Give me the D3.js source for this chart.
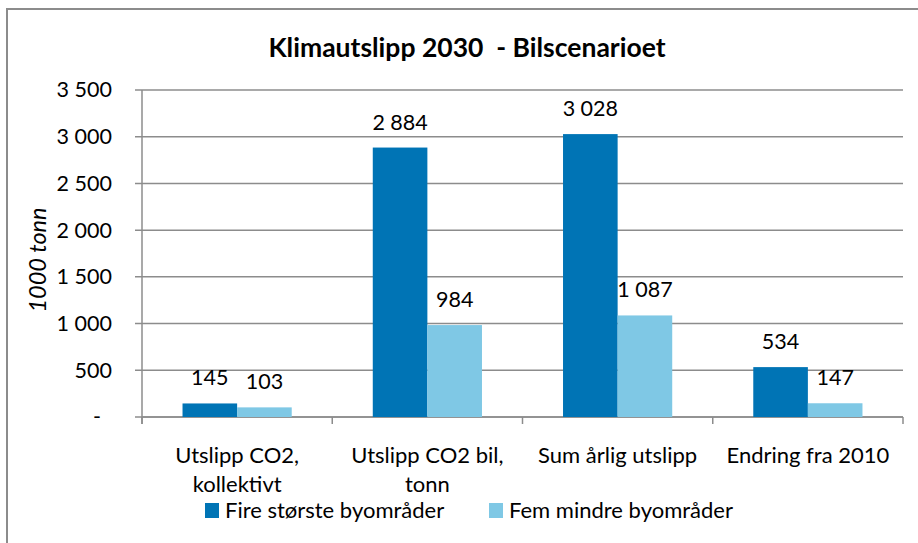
<!DOCTYPE html>
<html>
<head>
<meta charset="utf-8">
<script src="https://cdn.jsdelivr.net/npm/d3@7"></script>
<style>
  body { margin: 0; background: #fff; }
  text { font-family: Lato, "Open Sans", sans-serif; fill: #000; }
</style>
</head>
<body>
<div id="chart"></div>
<script>
// data
var categories = ["Utslipp CO2, kollektivt", "Utslipp CO2 bil, tonn", "Sum årlig utslipp", "Endring fra 2010"];
var categoryLines = [["Utslipp CO2,", "kollektivt"], ["Utslipp CO2 bil,", "tonn"], ["Sum årlig utslipp"], ["Endring fra 2010"]];
var seriesNames = ["Fire største byområder", "Fem mindre byområder"];
var fireStorste = [145, 2884, 3028, 534];
var femMindre = [103, 984, 1087, 147];
var yTicks = [0, 500, 1000, 1500, 2000, 2500, 3000, 3500];
var colors = ["#0074B5", "#7FC8E5"];

var svgWidth = 918;
var svgHeight = 543;

var margin = { top: 90, right: 15, bottom: 126, left: 142 };
var width = svgWidth - margin.left - margin.right;
var height = svgHeight - margin.top - margin.bottom;

var labelSize = "21.5px";

var svg = d3.select("#chart")
  .append("svg")
  .attr("width", svgWidth)
  .attr("height", svgHeight);

// outer frame (only top and left visible in the picture)
svg.append("rect")
  .attr("x", 7).attr("y", 9)
  .attr("width", 1000).attr("height", 1000)
  .attr("fill", "none")
  .attr("stroke", "#8c8c8c")
  .attr("stroke-width", 2);

// title
svg.append("text")
  .attr("x", 467)
  .attr("y", 57)
  .attr("text-anchor", "middle")
  .style("font-weight", "bold")
  .style("font-size", "26.5px")
  .style("white-space", "pre")
  .text("Klimautslipp 2030  - Bilscenarioet");

var chartGroup = svg.append("g")
  .attr("transform", `translate(${margin.left}, ${margin.top})`);

var nf = d3.formatLocale({ decimal: ",", thousands: " ", grouping: [3], currency: ["", ""] }).format(",d");

// scales
var x0 = d3.scaleBand()
  .domain(categories)
  .range([0, width])
  .paddingInner(0.426)
  .paddingOuter(0.213);

var x1 = d3.scaleBand()
  .domain(seriesNames)
  .range([0, x0.bandwidth()]);

var yScale = d3.scaleLinear()
  .domain([0, 3500])
  .range([height, 0]);

// gridlines
chartGroup.append("g")
  .selectAll("line")
  .data(yTicks)
  .enter()
  .append("line")
  .attr("x1", -7)
  .attr("x2", width)
  .attr("y1", d => yScale(d))
  .attr("y2", d => yScale(d))
  .attr("stroke", "#8c8c8c")
  .attr("stroke-width", 1.5);

// y axis
var yAxis = chartGroup.append("g")
  .call(d3.axisLeft(yScale).tickValues(yTicks).tickSize(0).tickPadding(30)
    .tickFormat(d => d === 0 ? "-" : nf(d)));
yAxis.select(".domain").remove();
yAxis.selectAll("text")
  .style("font-size", labelSize)
  .attr("font-family", null)
  .attr("dx", d => d === 0 ? "-11" : "0");

chartGroup.append("line")
  .attr("x1", 0).attr("x2", 0)
  .attr("y1", 0).attr("y2", height + 7)
  .attr("stroke", "#8c8c8c")
  .attr("stroke-width", 1.5);

// x axis
var step = x0.step();
chartGroup.append("line")
  .attr("x1", 0).attr("x2", width)
  .attr("y1", height).attr("y2", height)
  .attr("stroke", "#8c8c8c")
  .attr("stroke-width", 1.5);

chartGroup.append("g")
  .selectAll("line")
  .data(d3.range(categories.length + 1))
  .enter()
  .append("line")
  .attr("x1", i => i * step).attr("x2", i => i * step)
  .attr("y1", height).attr("y2", height + 7)
  .attr("stroke", "#8c8c8c")
  .attr("stroke-width", 1.5);

// category labels
var catLabels = chartGroup.append("g")
  .selectAll("text")
  .data(categories)
  .enter()
  .append("text")
  .attr("text-anchor", "middle")
  .attr("x", d => x0(d) + x0.bandwidth() / 2)
  .attr("y", height + 46)
  .style("font-size", "22px");

catLabels.each(function(d, i) {
  d3.select(this).selectAll("tspan")
    .data(categoryLines[i])
    .enter()
    .append("tspan")
    .attr("x", x0(d) + x0.bandwidth() / 2)
    .attr("dy", (l, j) => j === 0 ? 0 : 29)
    .text(l => l);
});

// bars
var seriesData = [fireStorste, femMindre];
var groups = chartGroup.selectAll(".cat")
  .data(categories)
  .enter()
  .append("g")
  .attr("class", "cat")
  .attr("transform", d => `translate(${x0(d)}, 0)`);

groups.selectAll("rect")
  .data((d, i) => seriesNames.map((s, j) => ({ s: s, v: seriesData[j][i], j: j })))
  .enter()
  .append("rect")
  .attr("x", d => x1(d.s))
  .attr("width", x1.bandwidth())
  .attr("y", d => yScale(d.v))
  .attr("height", d => height - yScale(d.v))
  .attr("fill", d => colors[d.j]);

groups.selectAll(".val")
  .data((d, i) => seriesNames.map((s, j) => ({ s: s, v: seriesData[j][i], j: j })))
  .enter()
  .append("text")
  .attr("class", "val")
  .attr("text-anchor", "middle")
  .attr("x", d => x1(d.s) + x1.bandwidth() / 2)
  .attr("y", d => yScale(d.v) - 18)
  .style("font-size", labelSize)
  .text(d => nf(d.v));

// y axis title
svg.append("text")
  .attr("transform", "translate(46, 260) rotate(-90)")
  .attr("text-anchor", "middle")
  .style("font-size", "23.5px")
  .style("font-style", "italic")
  .text("1000 tonn");

// legend
var legendX = [205, 489];
var legend = svg.selectAll(".legend")
  .data(seriesNames)
  .enter()
  .append("g")
  .attr("class", "legend")
  .attr("transform", (d, i) => `translate(${legendX[i]}, 503)`);

legend.append("rect")
  .attr("width", 14).attr("height", 15)
  .attr("fill", (d, i) => colors[i]);

legend.append("text")
  .attr("x", 20)
  .attr("y", 15)
  .style("font-size", "22px")
  .text(d => d);
</script>
</body>
</html>
